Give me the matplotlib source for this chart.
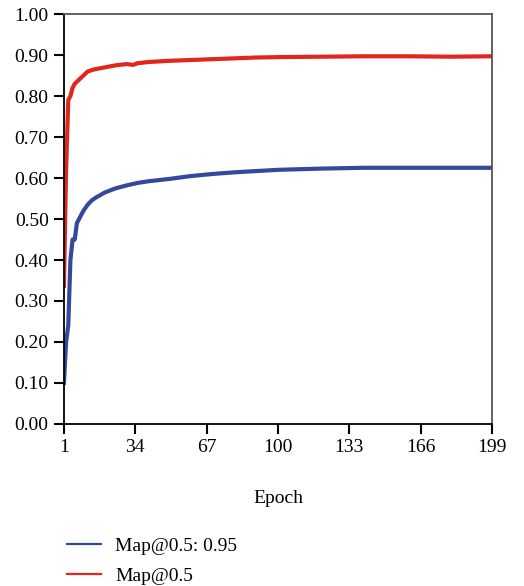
import matplotlib
matplotlib.use("Agg")
import matplotlib.pyplot as plt
from matplotlib.lines import Line2D

plt.rcParams['font.family'] = ['Liberation Serif', 'DejaVu Serif']

# values
epochs_red = [1, 2, 3, 4, 5, 6, 8, 10, 12, 15, 20, 25, 30, 33, 35, 40, 50, 60,
              70, 80, 90, 100, 120, 140, 160, 180, 199]
map50 = [0.337, 0.62, 0.79, 0.80, 0.82, 0.83, 0.84, 0.85, 0.86, 0.865, 0.87,
         0.875, 0.878, 0.876, 0.880, 0.883, 0.886, 0.888, 0.890, 0.892, 0.894,
         0.895, 0.896, 0.897, 0.897, 0.896, 0.897]

epochs_blue = [1, 2, 3, 4, 5, 6, 7, 8, 10, 12, 14, 16, 20, 25, 30, 35, 40, 50,
               60, 70, 80, 90, 100, 120, 140, 160, 180, 199]
map50_95 = [0.10, 0.20, 0.24, 0.40, 0.45, 0.45, 0.49, 0.50, 0.52, 0.535, 0.546,
            0.553, 0.565, 0.575, 0.582, 0.588, 0.592, 0.598, 0.605, 0.610,
            0.614, 0.617, 0.620, 0.623, 0.625, 0.625, 0.625, 0.625]

xticks = [1, 34, 67, 100, 133, 166, 199]
yticks = [i / 10 for i in range(11)]

red = '#e1261c'
blue = '#34499b'

fig = plt.figure(figsize=(5.24, 5.86), dpi=100)
ax = fig.add_axes([0.122, 0.2765, 0.817, 0.6995])

ax.plot(epochs_blue, map50_95, color=blue, lw=3.0, solid_joinstyle='round')
ax.plot(epochs_red, map50, color=red, lw=3.0, solid_joinstyle='round')

ax.set_xlim(1, 199)
ax.set_ylim(0, 1.0)
ax.set_xticks(xticks)
ax.set_yticks(yticks)
ax.set_yticklabels([f'{v:.2f}' for v in yticks])
ax.tick_params(direction='out', length=7, width=1.5, labelsize=14, pad=4)
for s in ['left', 'bottom']:
    ax.spines[s].set_color('black')
    ax.spines[s].set_linewidth(1.3)
for s in ['top', 'right']:
    ax.spines[s].set_color('#555555')
    ax.spines[s].set_linewidth(1.3)

ax.set_xlabel('Epoch', fontsize=14, labelpad=24)

handles = [Line2D([], [], color=blue, lw=1.6), Line2D([], [], color=red, lw=1.6)]
fig.legend(handles, ['Map@0.5: 0.95', 'Map@0.5'], loc='lower left',
           bbox_to_anchor=(0.095, -0.028), frameon=False, fontsize=14,
           handlelength=1.75, handletextpad=0.7, labelspacing=0.65)

fig.savefig('out.png', dpi=100)
